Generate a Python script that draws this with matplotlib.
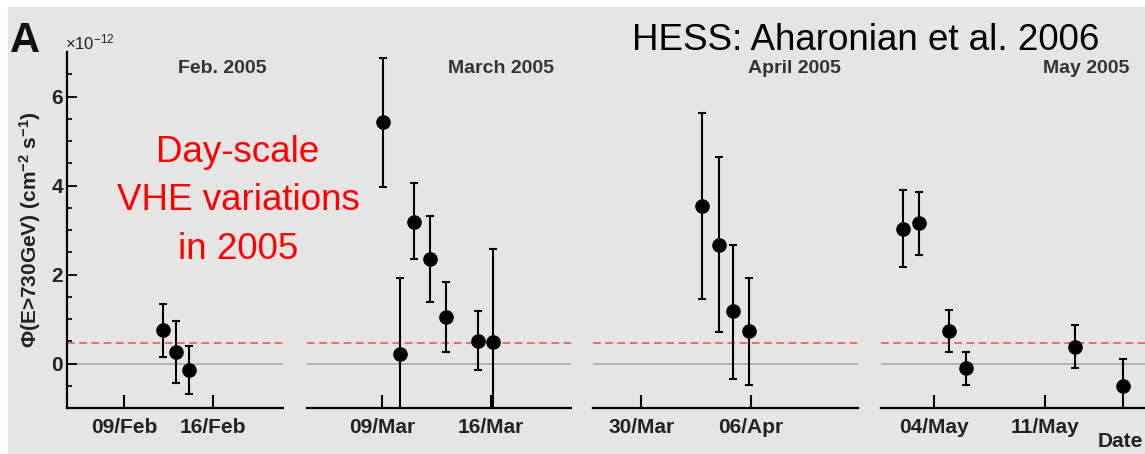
import matplotlib.pyplot as plt
from matplotlib.patches import Rectangle

# H.E.S.S. nightly flux, E>730 GeV, units 1e-12 cm^-2 s^-1
# x = day of month (April panel: day counted from 31/Mar = 0)
feb_day = [12.1, 13.1, 14.1]
feb_flux = [0.76, 0.26, -0.15]
feb_hi = [1.33, 0.96, 0.39]
feb_lo = [0.15, -0.43, -0.69]

mar_day = [9.05, 10.14, 11.06, 12.07, 13.08, 15.15, 16.11]
mar_flux = [5.42, 0.21, 3.18, 2.35, 1.05, 0.51, 0.49]
mar_hi = [6.87, 1.93, 4.05, 3.31, 1.83, 1.18, 2.58]
mar_lo = [3.97, -1.5, 2.34, 1.38, 0.26, -0.14, -1.6]

apr_day = [2.86, 3.94, 4.83, 5.87]
apr_flux = [3.53, 2.67, 1.18, 0.73]
apr_hi = [5.64, 4.65, 2.67, 1.93]
apr_lo = [1.44, 0.70, -0.34, -0.49]

may_day = [2.0, 3.03, 4.95, 5.98, 12.88, 15.94]
may_flux = [3.03, 3.16, 0.73, -0.11, 0.38, -0.50]
may_hi = [3.91, 3.86, 1.20, 0.26, 0.86, 0.11]
may_lo = [2.17, 2.43, 0.26, -0.49, -0.09, -1.1]

feb_ticks, feb_labels = [9, 16], ['09/Feb', '16/Feb']
mar_ticks, mar_labels = [9, 16], ['09/Mar', '16/Mar']
apr_ticks, apr_labels = [-1, 6], ['30/Mar', '06/Apr']
may_ticks, may_labels = [4, 11], ['04/May', '11/May']

titles = ['Feb. 2005', 'March 2005', 'April 2005', 'May 2005']
ref_level = 0.45

plt.rcParams['font.family'] = ['Liberation Sans', 'DejaVu Sans']
plt.rcParams['mathtext.default'] = 'regular'

W, H = 1145, 454
fig = plt.figure(figsize=(W / 100, H / 100), dpi=100, facecolor='white')
# grey page with thin white margin at top / left
fig.add_artist(Rectangle((8 / W, 0), 1, 1 - 7 / H, transform=fig.transFigure,
                         color='#e5e5e5', zorder=-10))

TOP, BOT = 52, 408
# pixel extents and x limits of the four panels
layout = [(67, 283, (4.44, 21.6)),
          (307, 571, (4.15, 21.16)),
          (593, 858, (-4.06, 12.81)),
          (881, 1146, (0.63, 17.39))]

data = [(feb_day, feb_flux, feb_hi, feb_lo, feb_ticks, feb_labels),
        (mar_day, mar_flux, mar_hi, mar_lo, mar_ticks, mar_labels),
        (apr_day, apr_flux, apr_hi, apr_lo, apr_ticks, apr_labels),
        (may_day, may_flux, may_hi, may_lo, may_ticks, may_labels)]

for i, ((x0, x1, xl), (d, f, hi, lo, tk, tl)) in enumerate(zip(layout, data)):
    ax = fig.add_axes([x0 / W, 1 - BOT / H, (x1 - x0) / W, (BOT - TOP) / H])
    ax.set_facecolor('none')
    ax.set_xlim(*xl)
    ax.set_ylim(-1, 7)
    for s in ['top', 'right']:
        ax.spines[s].set_visible(False)
    ax.spines['bottom'].set_linewidth(1.6)
    ax.axhline(0, color='#aaaaaa', lw=1.2, zorder=1)
    ax.axhline(ref_level, color='#e65050', lw=1.1, ls=(0, (5, 3)), zorder=1)
    yerr = [[v - l for v, l in zip(f, lo)], [h - v for v, h in zip(f, hi)]]
    ax.errorbar(d, f, yerr=yerr, fmt='o', color='black', ms=9.5, capsize=3,
                elinewidth=1.5, capthick=1.5, zorder=3)
    ax.set_xticks(tk)
    ax.set_xticklabels(tl, fontsize=15, fontweight='bold', color='#222222')
    ax.tick_params(axis='x', which='major', direction='in',
                   length=9.5, width=1.5, pad=7, color='black')
    ax.annotate(titles[i], (1, 1), xycoords='axes fraction', xytext=(-12, -12),
                textcoords='offset points', ha='right', va='center',
                fontsize=14, fontweight='bold', color='#333333')
    if i == 0:
        ax.spines['left'].set_linewidth(1.6)
        ax.set_yticks([0, 2, 4, 6])
        ax.set_yticks([y / 2 for y in range(-2, 14)], minor=True)
        ax.set_yticklabels(['0', '2', '4', '6'], fontsize=15, fontweight='bold',
                           color='#222222')
        ax.tick_params(axis='y', which='major', direction='in', length=7, width=1.3, pad=3)
        ax.tick_params(axis='y', which='minor', direction='in', length=3.5, width=1.2)
    else:
        ax.spines['left'].set_visible(False)
        ax.set_yticks([])

fig.text(10 / W, 1 - 52 / H, 'A', fontsize=30, fontweight='bold', color='#111111',
         va='baseline')
fig.text(65 / W, 1 - 49 / H, r'×10$^{-12}$', fontsize=12, color='#222222', va='baseline')
fig.text(30 / W, 1 - 230 / H, r'Φ(E>730GeV) (cm$^{-2}$ s$^{-1}$)', rotation=90,
         fontsize=15, fontweight='bold', color='#222222', ha='center', va='center')
fig.text(1098 / W, 1 - 447 / H, 'Date', fontsize=15, fontweight='bold', color='#222222',
         va='baseline')
fig.text(238 / W, 1 - 201 / H, 'Day-scale\nVHE variations\nin 2005', fontsize=26.5,
         color='#ff0000', ha='center', va='center', linespacing=1.5)
fig.text(632 / W, 1 - 50 / H, 'HESS: Aharonian et al. 2006', fontsize=26.5,
         color='black', va='baseline')

fig.savefig('out.png', dpi=100, facecolor=fig.get_facecolor())
